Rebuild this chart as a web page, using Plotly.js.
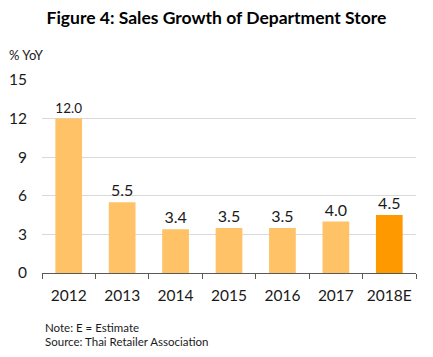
<!DOCTYPE html>
<html>
<head>
<meta charset="utf-8">
<script src="https://cdn.plot.ly/plotly-3.0.1.min.js"></script>
<style>html,body{margin:0;padding:0;background:#fff}#chart{width:433px;height:357px}</style>
</head>
<body>
<div id="chart"></div>
<script>
const years = ["2012", "2013", "2014", "2015", "2016", "2017", "2018E"];
const growth = [12.0, 5.5, 3.4, 3.5, 3.5, 4.0, 4.5];
const barColors = ["#FFC266", "#FFC266", "#FFC266", "#FFC266", "#FFC266", "#FFC266", "#FF9900"];
const yTicks = [0, 3, 6, 9, 12, 15];

const FONT = "Lato, 'Open Sans', sans-serif";

const trace = {
  type: "bar",
  x: years,
  y: growth,
  marker: { color: barColors },
  texttemplate: "%{y:.1f}",
  textposition: "outside",
  cliponaxis: false,
  textfont: { family: FONT, size: 16, color: "#1a1a1a" },
  hoverinfo: "skip"
};

const layout = {
  width: 433,
  height: 357,
  margin: { l: 42, r: 17, t: 80, b: 84 },
  paper_bgcolor: "#ffffff",
  plot_bgcolor: "#ffffff",
  bargap: 0.5,
  showlegend: false,
  font: { family: FONT, color: "#1a1a1a" },
  title: {
    text: "<b>Figure 4: Sales Growth of Department Store</b>",
    font: { family: FONT, size: 17.5, color: "#000000" },
    x: 0.5, xanchor: "center",
    y: 1 - 18 / 357, yanchor: "middle", yref: "container"
  },
  xaxis: {
    type: "category",
    showline: true, linecolor: "#595959", linewidth: 1,
    ticks: "outside", tickson: "boundaries", ticklen: 5, tickcolor: "#595959",
    tickangle: 0,
    ticklabelstandoff: 8,
    tickfont: { family: FONT, size: 15.5, color: "#1a1a1a" },
    showgrid: false, zeroline: false
  },
  yaxis: {
    range: [0, 15],
    tickvals: yTicks,
    ticktext: yTicks.map(String),
    showgrid: true, gridcolor: "#d9d9d9", gridwidth: 1,
    zeroline: false, showline: false, ticks: "",
    ticklabelstandoff: 14,
    tickfont: { family: FONT, size: 15.5, color: "#1a1a1a" }
  },
  annotations: [
    { text: "% YoY", xref: "paper", yref: "paper", x: (7 - 42) / 374, y: (273 - 55) / 193,
      xanchor: "left", yanchor: "middle", showarrow: false,
      font: { family: FONT, size: 13, color: "#1a1a1a" } },
    { text: "Note: E = Estimate", xref: "paper", yref: "paper", x: (43 - 42) / 374, y: (273 - 327) / 193,
      xanchor: "left", yanchor: "middle", showarrow: false,
      font: { family: FONT, size: 11.5, color: "#1a1a1a" } },
    { text: "Source: Thai Retailer Association", xref: "paper", yref: "paper", x: (43 - 42) / 374, y: (273 - 341) / 193,
      xanchor: "left", yanchor: "middle", showarrow: false,
      font: { family: FONT, size: 11.5, color: "#1a1a1a" } }
  ]
};

Plotly.newPlot("chart", [trace], layout, { staticPlot: true, displayModeBar: false });
</script>
</body>
</html>
